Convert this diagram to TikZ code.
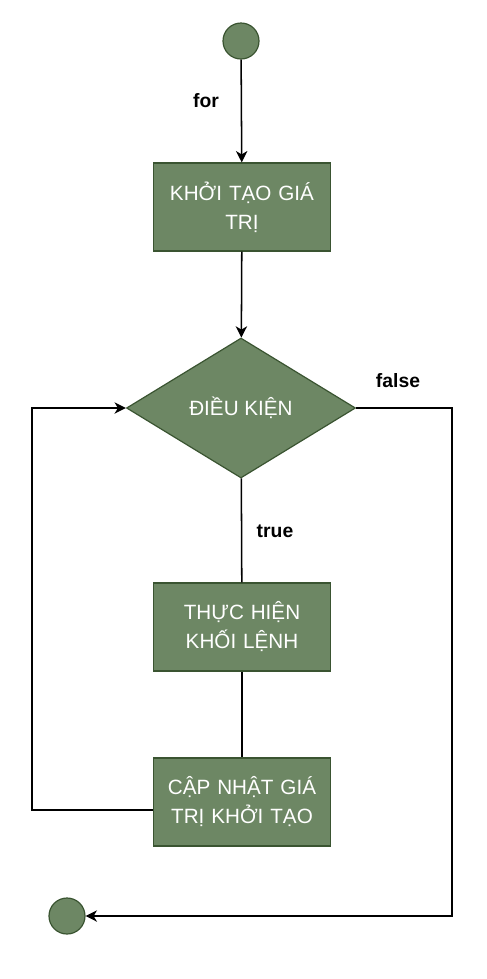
\documentclass[tikz,border=0pt]{standalone}
\usepackage{fontspec}
\setmainfont{Liberation Sans}
\usetikzlibrary{shapes.geometric,arrows.meta,positioning}
\definecolor{boxgreen}{HTML}{6D8764}
\definecolor{boxedge}{HTML}{3A5431}
\tikzset{
  endpoint/.style={circle,draw=boxedge,fill=boxgreen,minimum size=27pt,inner sep=0pt,line width=0.9pt},
  stepbox/.style={rectangle,draw=boxedge,fill=boxgreen,minimum width=132pt,minimum height=66pt,
    text width=126pt,align=center,text=white,line width=0.9pt,
    font=\fontsize{15.5}{21.75}\selectfont},
  testbox/.style={diamond,draw=boxedge,fill=boxgreen,aspect=1.64,minimum width=171.75pt,
    minimum height=105pt,inner sep=1pt,text=white,line width=0.9pt,
    font=\fontsize{15.5}{21.75}\selectfont},
  wire/.style={line width=1.15pt},
  flow/.style={wire,-{Stealth[length=8.5pt,width=8.5pt,inset=2.5pt]}},
  edgetext/.style={font=\fontsize{14.5}{17}\selectfont\bfseries}
}
\begin{document}
\begin{tikzpicture}[x=0.75pt,y=-0.75pt]
\useasboundingbox (0,0) rectangle (486,979);

% blocks
\node[endpoint] (start) at (241,41) {};
\node[stepbox] (init) at (242,207) {KHỞI TẠO GIÁ\\TRỊ};
\node[testbox] (cond) at (241,408) {ĐIỀU KIỆN};
\node[stepbox] (body) at (242,627) {THỰC HIỆN\\KHỐI LỆNH};
\node[stepbox] (update) at (242,802) {CẬP NHẬT GIÁ\\TRỊ KHỞI TẠO};
\node[endpoint] (stop) at (67,916) {};

\coordinate (falsebend) at (452,408);
\coordinate (loopbend) at (32,810);

% connectors
\draw[flow] (start) -- (init);
\draw[flow] (init) -- (cond);
\draw[wire] (cond) -- (body);
\draw[wire] (body) -- (update);
\draw[flow] (cond.east) -- (falsebend) |- (stop);
\draw[flow] (update.west |- loopbend) -- (loopbend) |- (cond.west);

% labels
\node[edgetext] (forlbl) at (206,101) {for};
\node[edgetext] (falselbl) at (398,381) {false};
\node[edgetext] (truelbl) at (275,531) {true};

\end{tikzpicture}
\end{document}
